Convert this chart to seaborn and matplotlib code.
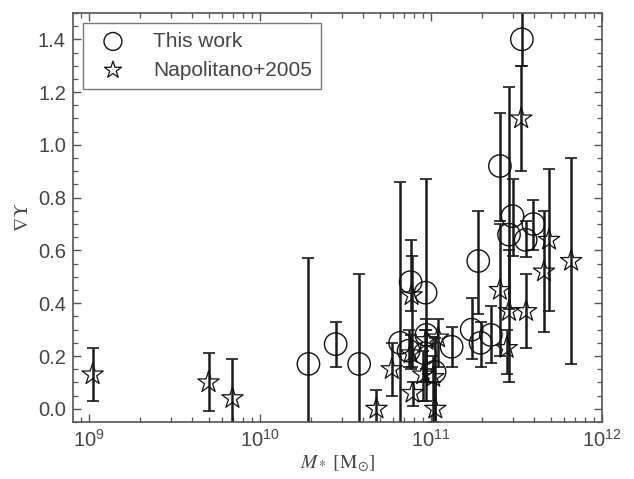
import numpy as np
import pandas as pd
import matplotlib
matplotlib.use("Agg")
import matplotlib.pyplot as plt
import seaborn as sns
from matplotlib.ticker import MultipleLocator, LogLocator

# This work (circles)
tw_mass = [1.92e10, 2.77e10, 3.8e10, 6.6e10, 7.4e10, 7.6e10, 9.3e10, 9.4e10, 9.2e10,
           1.05e11, 1.32e11, 1.73e11, 1.89e11, 1.95e11, 2.24e11, 2.53e11, 2.86e11,
           3.0e11, 3.4e11, 3.58e11, 3.97e11]
tw_grad = [0.17, 0.245, 0.17, 0.25, 0.22, 0.48, 0.44, 0.28, 0.21,
           0.14, 0.235, 0.30, 0.56, 0.25, 0.28, 0.92, 0.66,
           0.73, 1.40, 0.64, 0.70]
tw_low = [-0.3, 0.16, -0.3, -0.3, 0.16, 0.37, 0.03, 0.15, 0.10,
          -0.1, 0.16, 0.19, 0.36, 0.16, 0.175, 0.71, 0.38,
          0.58, 1.30, 0.575, 0.60]
tw_high = [0.57, 0.33, 0.51, 0.86, 0.30, 0.64, 0.87, 0.34, 0.30,
           0.27, 0.31, 0.42, 0.75, 0.33, 0.39, 1.12, 1.22,
           0.87, 1.60, 0.71, 0.79]

# Napolitano+2005 (stars)
np_mass = [1.05e9, 5.0e9, 6.9e9, 4.8e10, 5.9e10, 7.7e10, 7.8e10, 7.6e10, 9.0e10,
           9.4e10, 1.03e11, 1.06e11, 1.1e11, 2.53e11, 2.77e11, 2.86e11, 3.6e11,
           3.37e11, 4.58e11, 4.9e11, 6.6e11]
np_grad = [0.13, 0.10, 0.04, 0.00, 0.15, 0.43, 0.06, 0.21, 0.13,
           0.26, 0.12, 0.00, 0.27, 0.45, 0.23, 0.37, 0.37,
           1.10, 0.52, 0.64, 0.56]
np_low = [0.03, -0.01, -0.3, -0.3, 0.05, 0.16, 0.01, 0.15, 0.03,
          0.10, -0.05, -0.3, 0.16, 0.20, 0.13, 0.10, 0.23,
          0.90, 0.29, 0.37, 0.17]
np_high = [0.23, 0.21, 0.19, 0.07, 0.25, 0.58, 0.10, 0.28, 0.22,
           0.30, 0.20, 0.10, 0.34, 0.70, 0.30, 0.60, 0.51,
           1.30, 0.75, 0.91, 0.95]

tw = pd.DataFrame({"mass": tw_mass, "grad": tw_grad, "lo": tw_low, "hi": tw_high})
nap = pd.DataFrame({"mass": np_mass, "grad": np_grad, "lo": np_low, "hi": np_high})

sns.set_theme(style="ticks")
plt.rcParams["font.family"] = ["Liberation Sans", "DejaVu Sans"]
plt.rcParams["mathtext.fontset"] = "stix"

fig = plt.figure(figsize=(6.34, 4.79), dpi=100)
ax = fig.add_axes([0.115, 0.119, 0.8345, 0.854])

txtc = "#444444"
for df in (tw, nap):
    ax.errorbar(df["mass"], df["grad"],
                yerr=[df["grad"] - df["lo"], df["hi"] - df["grad"]],
                fmt="none", ecolor="#1a1a1a", elinewidth=1.8, capsize=4.5,
                capthick=1.2, zorder=2)

sns.scatterplot(data=tw, x="mass", y="grad", ax=ax, marker="o", s=260,
                facecolor="none", edgecolor="#111111", linewidth=1.0,
                label="This work", zorder=3)
sns.scatterplot(data=nap, x="mass", y="grad", ax=ax, marker="*", s=260,
                facecolor="none", edgecolor="#111111", linewidth=0.9,
                label="Napolitano+2005", zorder=3)

ax.set_xscale("log")
ax.set_xlim(10**8.906, 1e12)
ax.set_ylim(-0.05, 1.5)
ax.yaxis.set_major_locator(MultipleLocator(0.2))
ax.yaxis.set_minor_locator(MultipleLocator(0.05))
ax.xaxis.set_major_locator(LogLocator(base=10, numticks=10))
ax.xaxis.set_minor_locator(LogLocator(base=10, subs=np.arange(2, 10), numticks=20))
ax.yaxis.set_major_formatter(matplotlib.ticker.FormatStrFormatter("%.1f"))

ax.tick_params(which="both", direction="in", top=True, right=True,
               colors="#555555", labelcolor=txtc, labelsize=14.5)
ax.tick_params(which="major", length=6, width=1.0)
ax.tick_params(which="minor", length=3.5, width=0.9)
ax.tick_params(axis="x", which="major", pad=5)
ax.tick_params(axis="y", which="major", pad=5)
for sp in ax.spines.values():
    sp.set_color("#555555")
    sp.set_linewidth(1.2)

ax.set_xlabel(r"$M_*\ [\mathrm{M}_{\odot}]$", fontsize=14, color=txtc, labelpad=2)
ax.set_ylabel(r"$\nabla\Upsilon$", fontsize=14, color=txtc, labelpad=4)

leg = ax.legend(loc="upper left", bbox_to_anchor=(0.019, 0.976), frameon=True,
                fancybox=False, edgecolor="#555555", fontsize=15,
                borderaxespad=0.0, handletextpad=0.91, borderpad=0.44,
                labelspacing=0.46, markerscale=0.8, handlelength=2.0)
leg.get_frame().set_linewidth(1.0)
for t in leg.get_texts():
    t.set_color(txtc)

fig.savefig("out.png", dpi=100)
